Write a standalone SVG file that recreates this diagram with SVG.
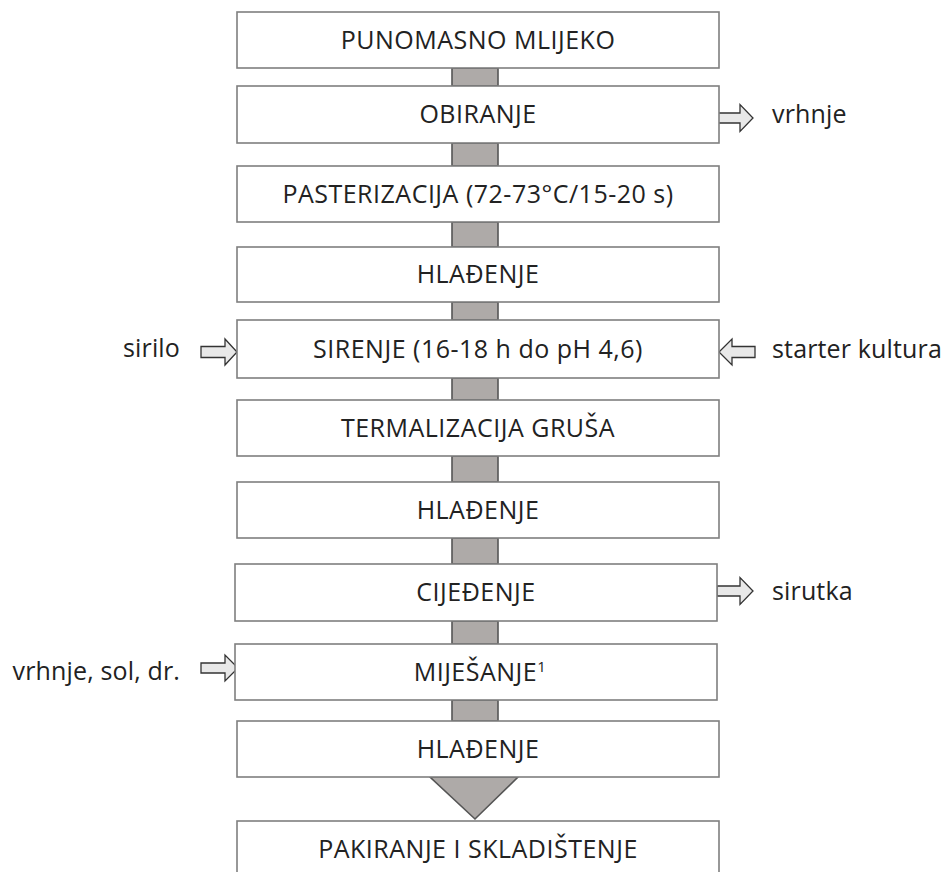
<svg xmlns="http://www.w3.org/2000/svg" width="945" height="872" viewBox="0 0 945 872">
<style>
.box{fill:#ffffff;stroke:#7f7f7f;stroke-width:1.6}
.bar{fill:#aeaaa8;stroke:#555555;stroke-width:1.6}
.sa{fill:#e8e8e8;stroke:#333333;stroke-width:1.3;stroke-linejoin:miter}
.t{font-family:"Open Sans","DejaVu Sans",sans-serif;font-size:25px;letter-spacing:0.5px;fill:#222222;text-anchor:middle}
.l{font-family:"Open Sans","DejaVu Sans",sans-serif;font-size:25px;letter-spacing:0.15px;fill:#222222}
.r{text-anchor:end}
</style>
<rect width="945" height="872" fill="#ffffff"/>
<g id="connectors">
<rect class="bar" x="452" y="68" width="46" height="18"/>
<rect class="bar" x="452" y="143" width="46" height="23"/>
<rect class="bar" x="452" y="222" width="46" height="25"/>
<rect class="bar" x="452" y="302" width="46" height="18"/>
<rect class="bar" x="452" y="378" width="46" height="22"/>
<rect class="bar" x="452" y="456" width="46" height="26"/>
<rect class="bar" x="452" y="538" width="46" height="26"/>
<rect class="bar" x="452" y="621" width="46" height="23"/>
<rect class="bar" x="452" y="700" width="46" height="21"/>
<polygon class="bar" points="430,777 518,777 475,819"/>
<polygon class="sa" points="718,113 740,113 740,104.5 753,118 740,131.5 740,123 718,123"/>
<polygon class="sa" points="717,586 740,586 740,577.5 753,591 740,604.5 740,596 717,596"/>
<polygon class="sa" points="201,346.5 225,346.5 225,339 237,352 225,365 225,357.5 201,357.5"/>
<polygon class="sa" points="755,346.5 732,346.5 732,339 719,352 732,365 732,357.5 755,357.5"/>
<polygon class="sa" points="201,663 225,663 225,655 238,668 225,681 225,673 201,673"/>
</g>
<g id="n1"><rect class="box" x="237" y="12" width="482" height="56"/><text class="t" x="478" y="48.5">PUNOMASNO MLIJEKO</text></g>
<g id="n2"><rect class="box" x="237" y="86" width="482" height="57"/><text class="t" x="478" y="123">OBIRANJE</text></g>
<g id="n3"><rect class="box" x="237" y="166" width="482" height="56"/><text class="t" x="478" y="202.5">PASTERIZACIJA (72-73°C/15-20 s)</text></g>
<g id="n4"><rect class="box" x="237" y="247" width="482" height="55"/><text class="t" x="478" y="283">HLAĐENJE</text></g>
<g id="n5"><rect class="box" x="237" y="320" width="482" height="58"/><text class="t" x="478" y="357.5">SIRENJE (16-18 h do pH 4,6)</text></g>
<g id="n6"><rect class="box" x="237" y="400" width="482" height="56"/><text class="t" x="478" y="436.5">TERMALIZACIJA GRUŠA</text></g>
<g id="n7"><rect class="box" x="237" y="482" width="482" height="56"/><text class="t" x="478" y="518.5">HLAĐENJE</text></g>
<g id="n8"><rect class="box" x="235" y="564" width="482" height="57"/><text class="t" x="476" y="601">CIJEĐENJE</text></g>
<g id="n9"><rect class="box" x="235" y="644" width="482" height="56"/><text class="t" x="480" y="680.5">MIJEŠANJE<tspan font-size="15" dy="-9">1</tspan></text></g>
<g id="n10"><rect class="box" x="237" y="721" width="482" height="56"/><text class="t" x="478" y="757.5">HLAĐENJE</text></g>
<g id="n11"><rect class="box" x="237" y="821" width="482" height="60"/><text class="t" x="478" y="857.5">PAKIRANJE I SKLADIŠTENJE</text></g>
<g id="labels">
<text class="l" x="772" y="123">vrhnje</text>
<text class="l r" x="180" y="357">sirilo</text>
<text class="l" x="772" y="358">starter kultura</text>
<text class="l" x="772" y="600">sirutka</text>
<text class="l r" x="180" y="680">vrhnje, sol, dr.</text>
</g>
</svg>
